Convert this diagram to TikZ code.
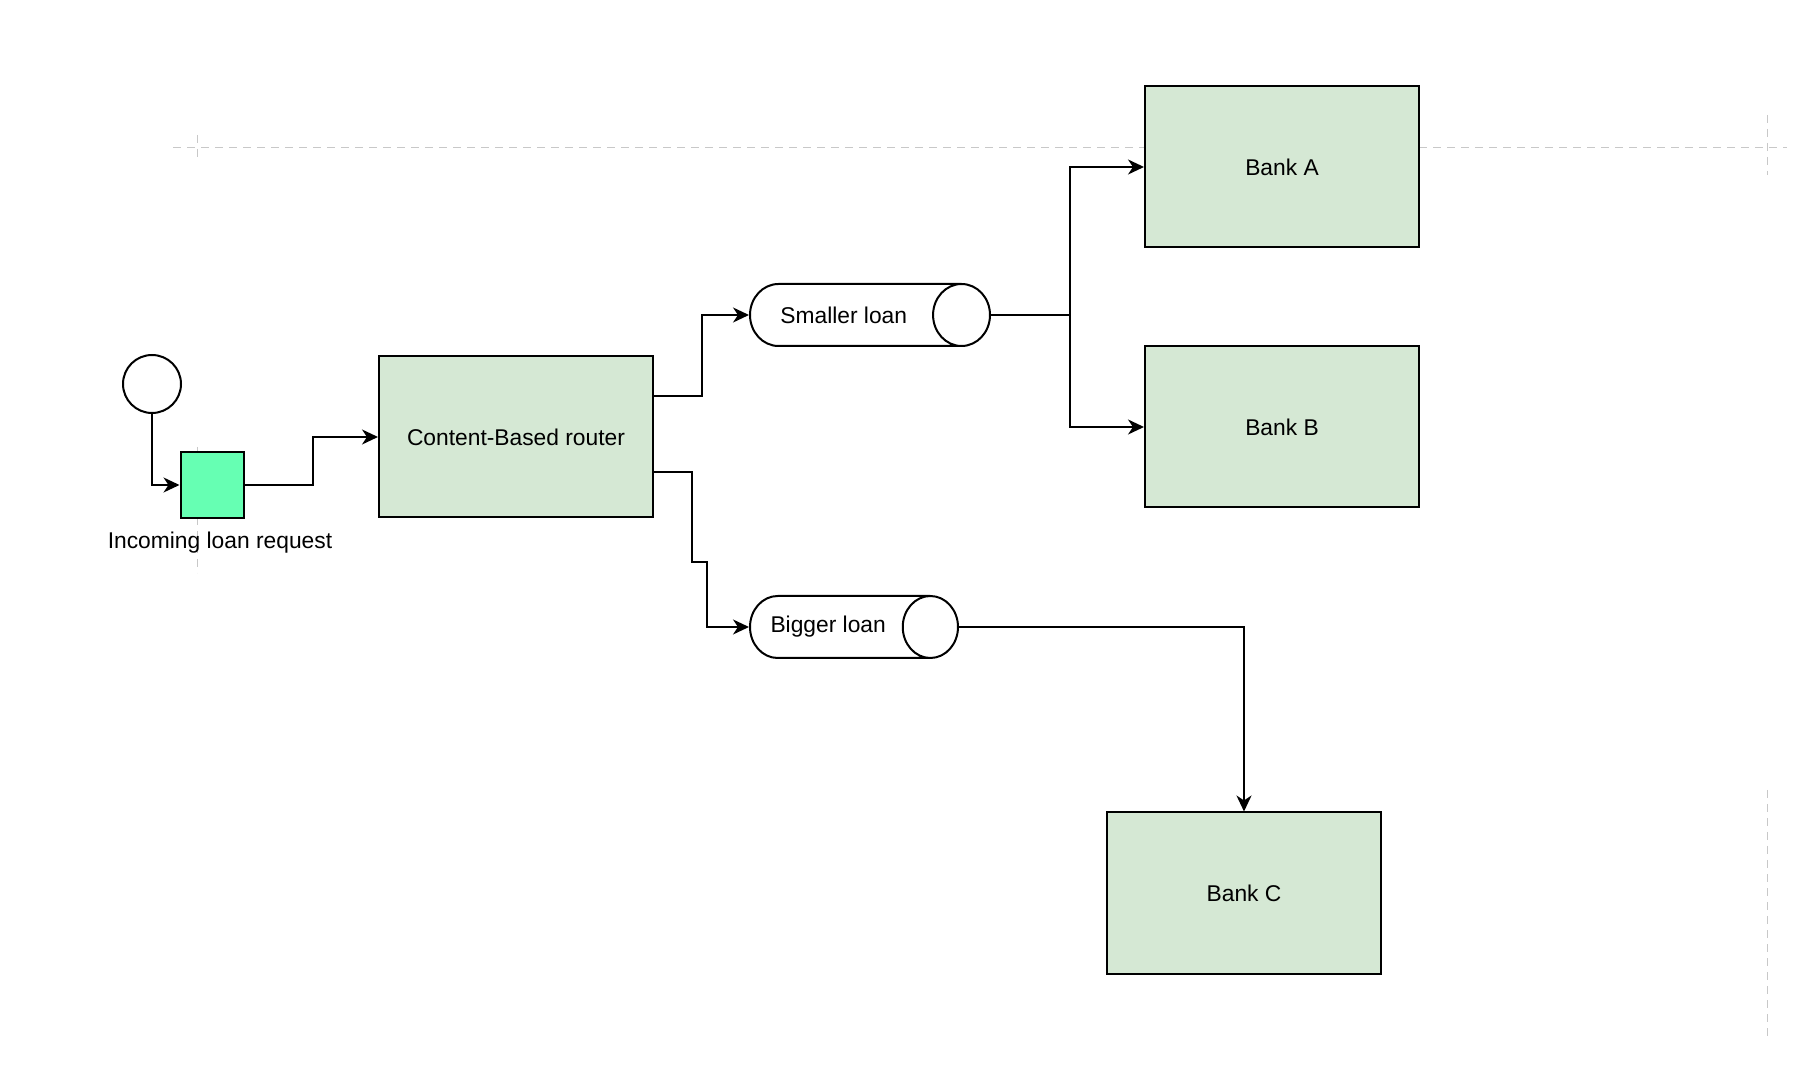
\documentclass[tikz,border=0pt]{standalone}
\usepackage{fontspec}
\setmainfont{Liberation Sans}
\usetikzlibrary{shapes.geometric,arrows.meta}
\definecolor{bankgreen}{HTML}{D5E8D4}
\definecolor{mint}{HTML}{66FFB3}
\definecolor{guide}{HTML}{C8C8C8}
\begin{document}
\begin{tikzpicture}[x=0.5pt,y=-0.5pt,line width=1pt,
  font=\fontsize{11.4}{13}\selectfont,
  >={Stealth[length=8pt,width=7.5pt,inset=2.5pt]},
  box/.style={draw,fill=bankgreen,minimum width=137pt,minimum height=80.5pt,inner sep=0pt},
  queue/.style={draw,cylinder,aspect=3.4,minimum width=31pt,inner ysep=0pt,inner xsep=-12pt},
  guideline/.style={draw=guide,line width=0.5pt,dash pattern=on 4pt off 3pt}]
\useasboundingbox (0,0) rectangle (1810,1068);
% guides
\draw[guideline] (173,148) -- (1787,148);
\draw[guideline] (197,135) -- (197,158);
\draw[guideline] (197,447) -- (197,573);
\draw[guideline] (1767,115) -- (1767,175);
\draw[guideline] (1767,790) -- (1767,1040);
% nodes
\node[draw,circle,minimum size=29pt,inner sep=0pt] (start) at (152,384) {};
\node[draw,fill=mint,minimum width=31.5pt,minimum height=33pt,inner sep=0pt] (request) at (212,485) {};
\node (requestlabel) at (220,543) {Incoming loan request};
\node[box] (router) at (516,437) {Content-Based router};
\node[queue,minimum height=120pt,anchor=west] (small) at (749,315) {Smaller loan\hspace*{11.5pt}};
\node[queue,aspect=2.6,minimum height=104pt,anchor=west] (big) at (749,627) {Bigger loan\hspace*{11.5pt}};
\node[box] (bankA) at (1282,167) {Bank A};
\node[box] (bankB) at (1282,427) {Bank B};
\node[box] (bankC) at (1244,893) {Bank C};
% connectors
\draw[->] (start) |- (request);
\draw[->] (request.east) -- ++(68,0) |- (router.west);
\draw[->] ([yshift=20.5pt]router.east) -- ++(48,0) |- (small.west);
\draw[->] ([yshift=-17.5pt]router.east) -- ++(38,0) -- ++(0,90) -- ++(15,0) |- (big.west);
\draw (small.east) -- ++(79,0) coordinate (split);
\draw[->] (split) |- (bankA.west);
\draw[->] (split) |- (bankB.west);
\draw[->] (big.east) -| (bankC.north);
\end{tikzpicture}
\end{document}
